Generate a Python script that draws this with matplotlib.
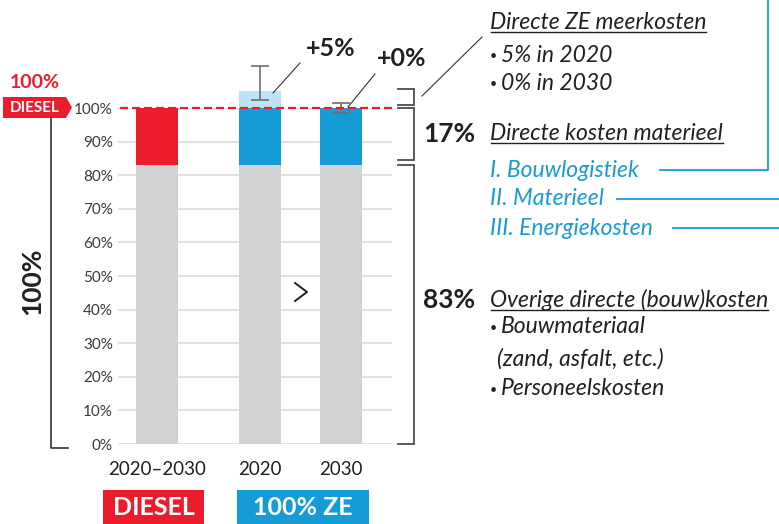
import matplotlib
matplotlib.use('Agg')
import matplotlib.pyplot as plt
from matplotlib.patches import Polygon, Rectangle

# ---------------- data ----------------
categories = ['2020–2030', '2020', '2030']
base_share = [83, 83, 83]          # overige directe (bouw)kosten
materieel_share = [17, 17, 17]     # directe kosten materieel
ze_extra = [0, 5, 0]               # directe ZE meerkosten
err_center = [107.5, 100]          # error bars for 2020, 2030
err_half = [5, 1.5]
ze_labels = ['+5%', '+0%']
yticks = list(range(0, 101, 10))
ytick_labels = [f'{v}%' for v in yticks]
group_labels = ['DIESEL', '100% ZE']

# ---------------- style ----------------
RED = '#ec1c2d'
BLUE = '#179bd7'
LBLUE = '#bde3f6'
GRAY = '#d1d2d4'
DARK = '#231f20'
FONT = 'Lato'
plt.rcParams['font.family'] = [FONT, 'DejaVu Sans']

W, H = 779, 524
fig = plt.figure(figsize=(W / 100, H / 100), dpi=100)

# main axes: x in pixel units, y in percent
ax = fig.add_axes([118 / W, 80 / H, 274 / W, 336 / H])
ax.set_xlim(118, 392)
ax.set_ylim(0, 100)
for s in ax.spines.values():
    s.set_visible(False)

bar_x = [157, 260, 341]
bw = 42
top_colors = [RED, BLUE, BLUE]

ax.bar(bar_x, base_share, width=bw, color=GRAY, zorder=2)
ax.bar(bar_x, materieel_share, bottom=base_share, width=bw, color=top_colors, zorder=2)
tops = [b + m for b, m in zip(base_share, materieel_share)]
extra = ax.bar(bar_x, ze_extra, bottom=tops, width=bw, color=LBLUE, zorder=2)
for p in extra.patches:
    p.set_clip_on(False)

eb = ax.errorbar(bar_x[1:], err_center, yerr=err_half, fmt='none', ecolor='#6d6e71',
                 elinewidth=1.2, capsize=6.5, capthick=1.2, zorder=4)
for art in list(eb.lines[1]) + list(eb.lines[2]):
    art.set_clip_on(False)

# dashed diesel reference line
ax.plot([120, 396], [100, 100], color=RED, lw=1.6, dashes=(3.6, 1.8), zorder=5, clip_on=False)

ax.set_yticks(yticks, ytick_labels)
ax.tick_params(axis='y', length=0, pad=3.6, labelsize=11, labelcolor='#3a3a3a')
ax.yaxis.grid(True, color='#dcdcdc', lw=1.2)
ax.set_axisbelow(True)
ax.set_xticks(bar_x, categories)
ax.tick_params(axis='x', length=0, pad=12.5, labelsize=13.5, labelcolor=DARK)

# right-hand brackets (in data coords)
br_lo = [0, base_share[1] + 1.5, tops[1] + 1]
br_hi = [base_share[1], tops[1], tops[1] + max(ze_extra) + 0.6]
for lo, hi in zip(br_lo, br_hi):
    ax.plot([398, 414, 414, 398], [hi, hi, lo, lo], color='#4d4d4f', lw=1.3,
            clip_on=False, solid_joinstyle='miter')

# ---------------- overlay (pixel coords) ----------------
ov = fig.add_axes([0, 0, 1, 1], zorder=5)
ov.set_xlim(0, W)
ov.set_ylim(H, 0)
ov.axis('off')
ov.patch.set_alpha(0)

# DIESEL tag and 100% label on the left
ov.add_patch(Polygon([(3, 97), (66, 97), (72, 107.5), (66, 118), (3, 118)], closed=True,
                     color=RED, lw=0))
ov.text(34.5, 108, 'DIESEL', color='white', fontsize=11, fontweight='bold',
        ha='center', va='center')
ov.text(35, 82, '100%', color=RED, fontsize=14, fontweight='bold', ha='center', va='center')
ov.plot([51, 51, 68], [118, 448, 448], color='#333333', lw=1.2)
ov.text(32, 281, '100%', color=DARK, fontsize=19, fontweight='bold', rotation=90,
        ha='center', va='center')

# ZE labels and leaders
ov.text(331, 49, ze_labels[0], color=DARK, fontsize=18, fontweight='bold', ha='center', va='center')
ov.text(402, 58, ze_labels[1], color=DARK, fontsize=18, fontweight='bold', ha='center', va='center')
ov.plot([273, 300], [93, 63], color='#333333', lw=0.8)
ov.plot([348, 375], [107, 74], color='#333333', lw=0.8)
ov.plot([422, 482], [96, 37], color='#333333', lw=0.8)

# chevron
ov.plot([295, 307, 295], [283, 292, 301], color=DARK, lw=1.4)

# bracket percentages
ov.text(449, 134, f'{materieel_share[0]}%', color=DARK, fontsize=19, fontweight='bold',
        ha='center', va='center')
ov.text(449, 300, f'{base_share[0]}%', color=DARK, fontsize=19, fontweight='bold',
        ha='center', va='center')

# right text column
FS = 16.5


def bullet(x, y, s):
    ov.text(x, y - 5.5, '•', color=DARK, fontsize=9, va='center', ha='left')
    ov.text(x + 11, y, s, color=DARK, fontsize=FS, style='italic', va='baseline')


underlined = []
t = ov.text(490, 29, 'Directe ZE meerkosten', color=DARK, fontsize=FS, style='italic', va='baseline')
underlined.append(t)
bullet(490, 62, '5% in 2020')
bullet(490, 90, '0% in 2030')
t = ov.text(490, 140, 'Directe kosten materieel', color=DARK, fontsize=FS, style='italic', va='baseline')
underlined.append(t)
ov.text(490, 177, 'I. Bouwlogistiek', color=BLUE, fontsize=FS, style='italic', va='baseline')
ov.text(490, 205, 'II. Materieel', color=BLUE, fontsize=FS, style='italic', va='baseline')
ov.text(490, 235, 'III. Energiekosten', color=BLUE, fontsize=FS, style='italic', va='baseline')
t = ov.text(490, 307, 'Overige directe (bouw)kosten', color=DARK, fontsize=FS, style='italic', va='baseline')
underlined.append(t)
bullet(490, 333, 'Bouwmateriaal')
ov.text(497, 366, '(zand, asfalt, etc.)', color=DARK, fontsize=FS, style='italic', va='baseline')
bullet(490, 395, 'Personeelskosten')

# blue connector lines
ov.plot([660, 768, 768], [170, 170, 0], color=BLUE, lw=1.3)
ov.plot([617, 779], [199, 199], color=BLUE, lw=1.3)
ov.plot([673, 779], [228, 228], color=BLUE, lw=1.3)

# bottom group boxes
ov.add_patch(Rectangle((103, 490), 101, 34, color=RED, lw=0))
ov.text(153.5, 507.5, group_labels[0], color='white', fontsize=18, fontweight='bold',
        ha='center', va='center')
ov.add_patch(Rectangle((237, 490), 132, 34, color=BLUE, lw=0))
ov.text(303, 507.5, group_labels[1], color='white', fontsize=18, fontweight='bold',
        ha='center', va='center')

# underlines
fig.canvas.draw()
inv = ov.transData.inverted()
for t in underlined:
    bb = t.get_window_extent()
    (x0, _), (x1, _) = inv.transform([(bb.x0, bb.y0), (bb.x1, bb.y1)])
    y = t.get_position()[1] + 3
    ov.plot([x0 + 1, x1], [y, y], color=DARK, lw=1.0)

fig.savefig('out.png', dpi=100)
